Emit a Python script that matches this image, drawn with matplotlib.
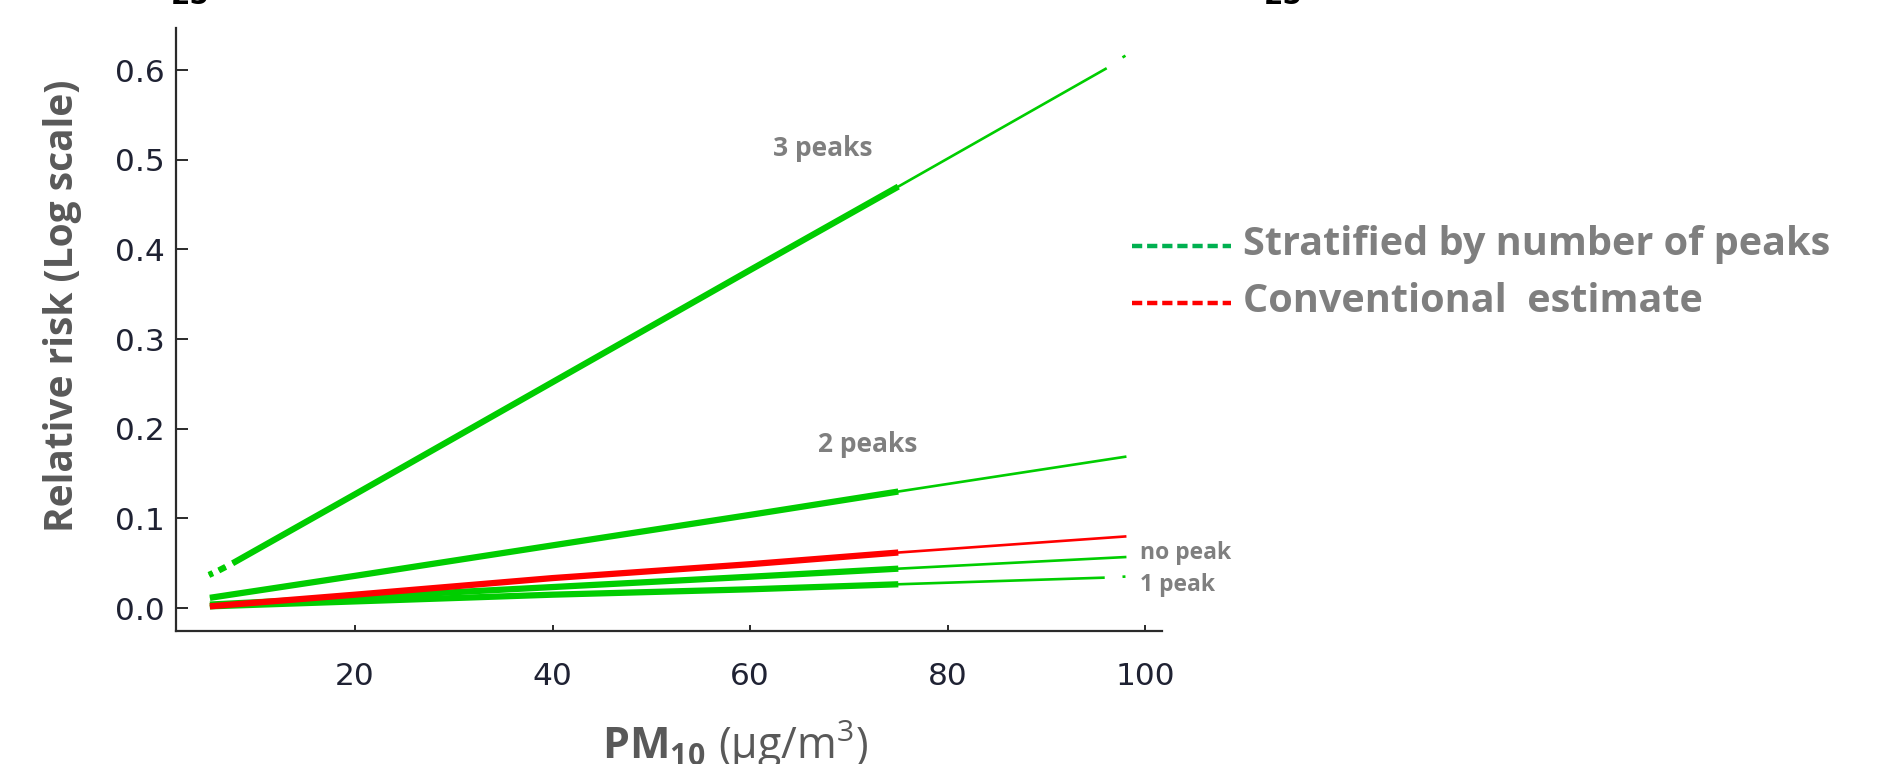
import numpy as np
import matplotlib
matplotlib.use('Agg')
import matplotlib.pyplot as plt
from matplotlib.lines import Line2D

plt.rcParams['font.family'] = ['DejaVu Sans']
plt.rcParams['mathtext.fontset'] = 'custom'
plt.rcParams['mathtext.rm'] = 'Open Sans'
plt.rcParams['mathtext.bf'] = 'Open Sans:bold'
plt.rcParams['mathtext.it'] = 'Open Sans:italic'

# PM10 (ug/m3) vs relative risk (log scale); nan = gap in the curve
pm_3peaks = [5.2, 5.6, np.nan, 6.2, 6.9, np.nan, 7.6, 20, 40, 60, 75, 96.1, np.nan, 97.7, 98.0]
rr_3peaks = [0.037, 0.039, np.nan, 0.042, 0.046, np.nan, 0.050, 0.127, 0.252, 0.377, 0.470, 0.602, np.nan, 0.614, 0.616]

pm_2peaks = [5.3, 20, 40, 60, 75, 98.1]
rr_2peaks = [0.0115, 0.036, 0.070, 0.104, 0.130, 0.169]

pm_nopeak = [5.3, 20, 40, 60, 75, 98.1]
rr_nopeak = [0.004, 0.012, 0.0235, 0.035, 0.044, 0.057]

pm_1peak = [5.3, 20, 40, 60, 75, 95.9, np.nan, 97.7, 98.0]
rr_1peak = [0.002, 0.0075, 0.015, 0.021, 0.0266, 0.034, np.nan, 0.0350, 0.0352]

pm_conv = [5.3, 20, 40, 60, 75, 98.1]
rr_conv = [0.002, 0.015, 0.0335, 0.049, 0.062, 0.080]

xticks = [20, 40, 60, 80, 100]
yticks = [0.0, 0.1, 0.2, 0.3, 0.4, 0.5, 0.6]

GREEN = '#00CD00'
RED = '#FF0000'
GRAY = '#7F7F7F'
DARK_GRAY = '#595959'
TICK_COL = '#1F2233'

fig = plt.figure(figsize=(18.83, 7.64), dpi=100)
ax = fig.add_axes([176.5 / 1883, 1 - 631 / 764, (1162 - 176.5) / 1883, (631 - 28.3) / 764])


def draw_curve(x, y, color, split=75):
    x = np.asarray(x, dtype=float)
    y = np.asarray(y, dtype=float)
    ax.plot(x, y, color=color, lw=1.9, solid_capstyle='butt')
    # dense part of the data, drawn thicker
    thick = np.where(x <= split, y, np.nan)
    ax.plot(x, thick, color=color, lw=4.5, solid_capstyle='butt')


draw_curve(pm_1peak, rr_1peak, GREEN)
draw_curve(pm_nopeak, rr_nopeak, GREEN)
draw_curve(pm_conv, rr_conv, RED)
draw_curve(pm_2peaks, rr_2peaks, GREEN)
draw_curve(pm_3peaks, rr_3peaks, GREEN)

ax.set_xlim(1.92, 101.7)
ax.set_ylim(-0.0255, 0.6465)
ax.set_xticks(xticks)
ax.set_yticks(yticks)
ax.set_yticklabels([f'{v:.1f}' for v in yticks])
for s in ['top', 'right']:
    ax.spines[s].set_visible(False)
for s in ['left', 'bottom']:
    ax.spines[s].set_linewidth(1.6)
    ax.spines[s].set_color('#2a2a2a')
ax.tick_params(axis='y', direction='in', length=8.6, width=1.4, pad=8.3,
               labelsize=22.5, labelcolor=TICK_COL, color='#2a2a2a')
ax.tick_params(axis='x', direction='in', length=4.6, width=1.4, pad=22,
               labelsize=22.5, labelcolor=TICK_COL, color='#2a2a2a')

# curve labels
big_kw = dict(family='Open Sans', fontweight='bold', color=GRAY, fontsize=19, clip_on=False)
small_kw = dict(family='Open Sans', fontweight='bold', color=GRAY, fontsize=16.5, clip_on=False)
ax.text(67.4, 0.512, '3 peaks', ha='center', va='center', **big_kw)
ax.text(71.9, 0.183, '2 peaks', ha='center', va='center', **big_kw)
ax.text(99.5, 0.062, 'no peak', ha='left', va='center', **small_kw)
ax.text(99.5, 0.026, '1 peak', ha='left', va='center', **small_kw)

# axis titles
fig.text(63 / 1883, 1 - 306 / 764, 'Relative risk (Log scale)', rotation=90,
         ha='center', va='center', family='Open Sans', fontweight='bold',
         fontsize=28, color=DARK_GRAY)
fig.text(735 / 1883, 1 - 759 / 764, r'$\mathbf{PM_{10}}\ \mathrm{(µg/m^{3})}$',
         ha='center', va='baseline', fontsize=31, color=DARK_GRAY)

# legend made of coloured dashes + text
leg_kw = dict(family='Open Sans', fontweight='bold', fontsize=28.5, va='center', color=GRAY)
for ypix, col, txt in [(244, '#00B050', 'Stratified by number of peaks'),
                       (301, RED, 'Conventional  estimate')]:
    yf = 1 - (ypix + 2) / 764
    fig.add_artist(Line2D([1132 / 1883, 1231 / 1883], [yf, yf], color=col, lw=3.2,
                          linestyle=(0, (2.3, 1.1)), transform=fig.transFigure))
    fig.text(1243 / 1883, 1 - ypix / 764, txt, **leg_kw)

# cut-off text from the slide above
fig.text(190 / 1883, 1 - 4 / 764, '25', ha='center', va='baseline', fontsize=20,
         fontweight='bold', color='black')
fig.text(1283 / 1883, 1 - 4 / 764, '25', ha='center', va='baseline', fontsize=20,
         fontweight='bold', color='black')

fig.savefig('out.png', dpi=100)
